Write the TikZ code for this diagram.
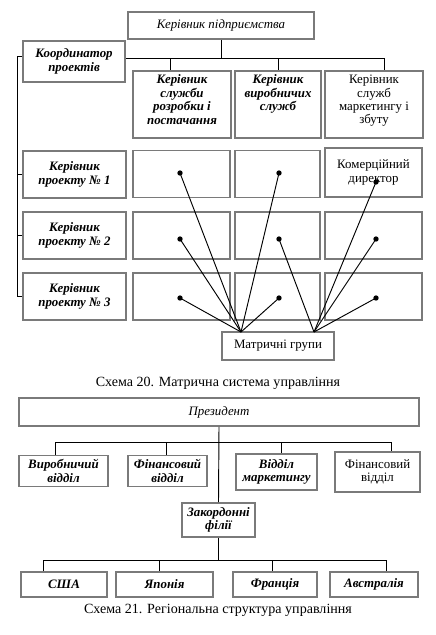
\documentclass[tikz,border=0pt]{standalone}
\usepackage{fontspec}
\setmainfont{Liberation Serif}
\usetikzlibrary{positioning,calc}
\definecolor{boxgrey}{HTML}{7A7A7A}
\tikzset{
  % рамки
  bx/.style={draw=boxgrey,line width=1.5pt,fill=white,inner sep=1pt,align=center,
             font=\fontsize{11}{11.5}\selectfont\bfseries\itshape},
  bxit/.style={bx,font=\fontsize{11}{11.5}\selectfont\itshape},
  bxrm/.style={bx,font=\fontsize{11}{11.5}\selectfont},
  sz/.style 2 args={minimum width=#1*0.3mm,minimum height=#2*0.3mm},
  htxt/.style={anchor=north,inner sep=1pt,align=center,
             font=\fontsize{11}{11.5}\selectfont\bfseries\itshape},
  % зв'язки
  ln/.style={draw=black,line width=0.8pt},
  dot/.style={circle,fill=black,inner sep=0pt,minimum size=1.6mm},
  schema/.style={font=\fontsize{12}{14}\selectfont},
}
\begin{document}
\begin{tikzpicture}[x=0.3mm,y=-0.3mm]
\useasboundingbox (0,0) rectangle (436,635);
  % Схема 20
  \node[bxit,sz={186}{27}] (head) at (221,25.5) {Керівник підприємства};
  \node[bx,sz={102}{41}] (coord) at (74,61.5) {Координатор\\проектів};
  \node[bx,sz={98}{67}] (hA) at (182,104.5) {};
  \node[bx,sz={86}{67}] (hB) at (278,104.5) {};
  \node[bx,sz={98}{67}] (hC) at (374,104.5) {};
  \node[htxt] (tA) at ([yshift=-3pt]hA.north) {Керівник\\служби\\розробки і\\постачання};
  \node[htxt] (tB) at ([yshift=-3pt]hB.north) {Керівник\\виробничих\\служб};
  \node[htxt,font=\fontsize{11}{11.5}\selectfont] (tC) at ([yshift=-3pt]hC.north) {Керівник\\служб\\маркетингу і\\збуту};

  \node[bx,sz={103}{47}] (p1) at (74.5,174.5) {Керівник\\проекту № 1};
  \node[bx,sz={103}{47}] (p2) at (74.5,235.5) {Керівник\\проекту № 2};
  \node[bx,sz={103}{47}] (p3) at (74.5,296.5) {Керівник\\проекту № 3};
  \node[bx,sz={97}{47}] (c11) at (181.5,174) {};
  \node[bx,sz={85}{47}] (c12) at (277.5,174) {};
  \node[bxrm,sz={97}{49}] (c13) at (373.5,172.5) {Комерційний\\директор};
  \node[bx,sz={97}{47}] (c21) at (181.5,235.5) {};
  \node[bx,sz={85}{47}] (c22) at (277.5,235.5) {};
  \node[bx,sz={97}{47}] (c23) at (373.5,235.5) {};
  \node[bx,sz={97}{47}] (c31) at (181.5,296.5) {};
  \node[bx,sz={85}{47}] (c32) at (277.5,296.5) {};
  \node[bx,sz={97}{47}] (c33) at (373.5,296.5) {};
  \node[bxrm,sz={112}{28}] (mg) at (278,346) {Матричні групи};

  \coordinate (bus) at (221,58);
  \coordinate (jA) at (170,58);
  \coordinate (jC) at (384,58);
  \coordinate (sp) at (17,56);
  \draw[ln] (head.south) -- (bus);
  \draw[ln] (coord.east |- bus) -- (jC) -- (jC |- hC.north);
  \draw[ln] (jA) -- (jA |- hA.north);
  \draw[ln] (hB.north |- bus) -- (hB.north);
  \draw[ln] (sp -| coord.west) -- (sp) |- (p3.west);
  \draw[ln] (sp |- p1.west) -- (p1.west);
  \draw[ln] (sp |- p2.west) -- (p2.west);

  \node[dot] (d11) at (180,173) {};
  \node[dot] (d12) at (279,173) {};
  \node[dot] (d13) at (376,182) {};
  \node[dot] (d21) at (180,239) {};
  \node[dot] (d22) at (279,239) {};
  \node[dot] (d23) at (376,239) {};
  \node[dot] (d31) at (180,298) {};
  \node[dot] (d32) at (279,298) {};
  \node[dot] (d33) at (376,298) {};
  \coordinate (mL) at (241,332);
  \coordinate (mR) at (314,332);
  \foreach \d in {d11,d12,d21,d31,d32}
    \draw[ln] (\d.center) -- (mL);
  \foreach \d in {d13,d22,d23,d33}
    \draw[ln] (\d.center) -- (mR);

  \node[schema] (s20) at (218,383) {Схема 20. Матрична система управління};

  % Схема 21
  \node[bxit,sz={400}{28}] (pres) at (219,412) {Президент};
  \node[bx,sz={89}{31}] (v1) at (63.5,471) {Виробничий\\відділ};
  \node[bx,sz={79}{31}] (v2) at (167.5,471) {Фінансовий\\відділ};
  \node[bx,sz={81}{36}] (v3) at (276.5,472) {Відділ\\маркетингу};
  \node[bxrm,sz={85}{40}] (v4) at (377.5,472) {Фінансовий\\відділ};
  \node[bx,sz={73}{34}] (ff) at (218.5,520) {Закордонні\\філії};
  \node[bx,sz={86}{25}] (usa) at (64,584.5) {США};
  \node[bx,sz={97}{25}] (jap) at (164.5,584.5) {Японія};
  \node[bx,sz={84}{25}] (fra) at (275,584.5) {Франція};
  \node[bx,sz={88}{25}] (aus) at (374,584.5) {Австралія};

  \coordinate (k1) at (55,442);
  \coordinate (k2) at (166,442);
  \coordinate (k3) at (281,442);
  \coordinate (k4) at (391,442);
  \draw[ln] (pres.south) -- (ff.north);
  \draw[ln] (k1) -- (k4);
  \draw[ln] (k1) -- (k1 |- v1.north);
  \draw[ln] (k2) -- (k2 |- v2.north);
  \draw[ln] (k3) -- (k3 |- v3.north);
  \draw[ln] (k4) -- (k4 |- v4.north);

  \coordinate (f1) at (43,560);
  \coordinate (f2) at (159,560);
  \coordinate (f3) at (272,560);
  \coordinate (f4) at (386,560);
  \draw[ln] (ff.south) -- (ff.south |- f1);
  \draw[ln] (f1) -- (f4);
  \draw[ln] (f1) -- (f1 |- usa.north);
  \draw[ln] (f2) -- (f2 |- jap.north);
  \draw[ln] (f3) -- (f3 |- fra.north);
  \draw[ln] (f4) -- (f4 |- aus.north);

  \node[schema] (s21) at (218,610) {Схема 21. Регіональна структура управління};
\end{tikzpicture}
\end{document}
